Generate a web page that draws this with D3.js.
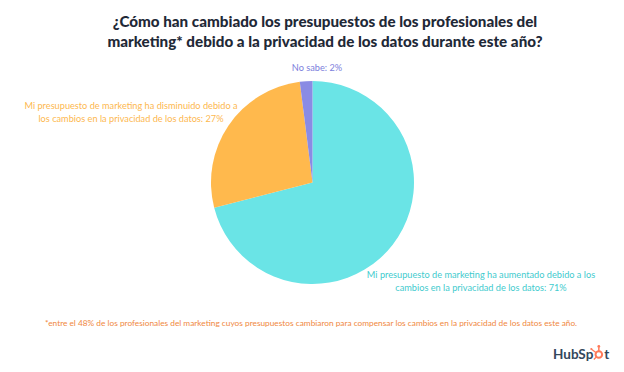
<!DOCTYPE html>
<html><head><meta charset="utf-8">
<script src="https://cdn.jsdelivr.net/npm/d3@7"></script>
<style>body{margin:0;background:#fff;} svg{display:block;}</style>
</head><body>
<svg id="c" width="624" height="372"></svg>
<script>
const categories = [
  "Mi presupuesto de marketing ha aumentado debido a los cambios en la privacidad de los datos",
  "Mi presupuesto de marketing ha disminuido debido a los cambios en la privacidad de los datos",
  "No sabe"
];
const values = [71, 27, 2];
const colors = ["#6AE4E6", "#FFB94D", "#8A8BE4"];
const labelColors = ["#3FCBCE", "#FDB84F", "#7C7EDC"];

const svg = d3.select("#c");
const font = "Lato, 'Noto Sans', sans-serif";
const cx = 312.5, cy = 182.5, r = 101.5;

svg.append("g").selectAll("text").data([
  "¿Cómo han cambiado los presupuestos de los profesionales del",
  "marketing* debido a la privacidad de los datos durante este año?"
]).join("text")
  .attr("x", 325).attr("y", (d,i)=>27 + i*20)
  .attr("text-anchor","middle").attr("font-family",font)
  .attr("font-weight","900").attr("font-size",15.2).attr("fill","#1F2937")
  .text(d=>d);

const pie = d3.pie().sort(null).value(d=>d)(values);
const arc = d3.arc().innerRadius(0).outerRadius(r);
svg.append("g").attr("transform",`translate(${cx},${cy})`)
  .selectAll("path").data(pie).join("path")
  .attr("d",arc).attr("fill",(d,i)=>colors[i]);

const labels = [
  {lines:["Mi presupuesto de marketing ha aumentado debido a los","cambios en la privacidad de los datos: " + values[0] + "%"], x:481, y:278},
  {lines:["Mi presupuesto de marketing ha disminuido debido a","los cambios en la privacidad de los datos: " + values[1] + "%"], x:131, y:109},
  {lines:["No sabe: " + values[2] + "%"], x:317, y:71}
];
labels.forEach((l,i)=>{
  svg.append("g").selectAll("text").data(l.lines).join("text")
    .attr("x",l.x).attr("y",(d,j)=>l.y + j*13)
    .attr("text-anchor","middle").attr("font-family",font)
    .attr("font-size",9.2).attr("fill",labelColors[i]).text(d=>d);
});

svg.append("text").attr("x",311).attr("y",326).attr("text-anchor","middle")
  .attr("font-family",font).attr("font-size",8.3).attr("fill","#F0883E")
  .text("*entre el 48% de los profesionales del marketing cuyos presupuestos cambiaron para compensar los cambios en la privacidad de los datos este año.");

// HubSpot logo
const logo = svg.append("g");
const t1 = logo.append("text").attr("x",553).attr("y",359).attr("font-family",font)
  .attr("font-weight","bold").attr("font-size",13.5).attr("fill","#33475B")
  .text("HubSp");
const w = t1.node().getComputedTextLength();
const sx = 553 + w + 5.5, sy = 354.5;
logo.append("circle").attr("cx",sx).attr("cy",sy).attr("r",3.3)
  .attr("fill","none").attr("stroke","#FF7A59").attr("stroke-width",2);
logo.append("line").attr("x1",sx).attr("y1",sy-3.5).attr("x2",sx).attr("y2",sy-7)
  .attr("stroke","#FF7A59").attr("stroke-width",1.5);
logo.append("circle").attr("cx",sx).attr("cy",sy-8).attr("r",1.4).attr("fill","#FF7A59");
logo.append("line").attr("x1",sx-3).attr("y1",sy-2).attr("x2",sx-7).attr("y2",sy-5)
  .attr("stroke","#FF7A59").attr("stroke-width",1.2);
logo.append("circle").attr("cx",sx-7.5).attr("cy",sy-5.5).attr("r",1.1).attr("fill","#FF7A59");
logo.append("line").attr("x1",sx-2.5).attr("y1",sy+2.5).attr("x2",sx-5).attr("y2",sy+5)
  .attr("stroke","#FF7A59").attr("stroke-width",1.2);
logo.append("text").attr("x",sx+5.5).attr("y",359).attr("font-family",font)
  .attr("font-weight","bold").attr("font-size",13.5).attr("fill","#33475B")
  .text("t");
</script>
</body></html>
